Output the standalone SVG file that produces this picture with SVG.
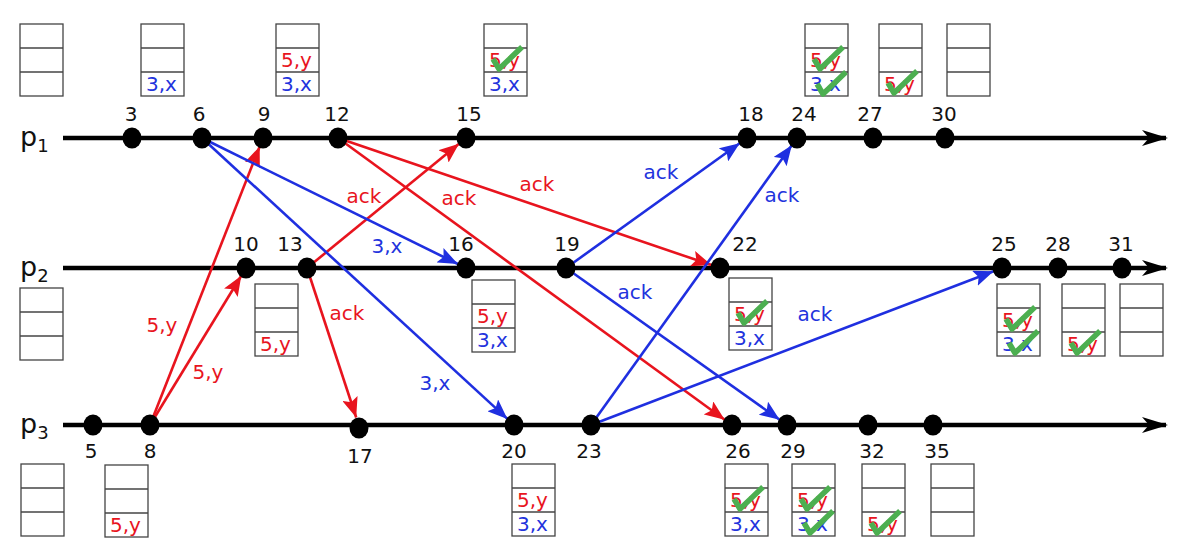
<svg xmlns="http://www.w3.org/2000/svg" xmlns:xlink="http://www.w3.org/1999/xlink" width="1184" height="538" viewBox="0 0 1184 538">
<style>
text{font-family:"DejaVu Sans",sans-serif}
.num{font-size:20px;fill:#111;text-anchor:middle}
.pl{font-size:27px;fill:#111}
.sub{font-size:18px;fill:#111}
.lr{font-size:20px;fill:#e8141e;text-anchor:middle}
.lb{font-size:20px;fill:#2233dd;text-anchor:middle}
.cr{font-size:20px;fill:#e8141e}
.cb{font-size:20px;fill:#2233dd}
.tl{stroke:#000;stroke-width:4.5;fill:none}
.ar{stroke:#e8141e;stroke-width:2.6;fill:none}
.ab{stroke:#1f2fe0;stroke-width:2.6;fill:none}
.chk{stroke:#4caf50;stroke-width:5.5;fill:none;stroke-linejoin:round}
.dot{fill:#000}
</style>
<defs>
<g id="box">
<rect x="0" y="0" width="43" height="72" fill="#fff" stroke="#444" stroke-width="1.3"/>
<line x1="0" y1="24" x2="43" y2="24" stroke="#444" stroke-width="1.3"/>
<line x1="0" y1="48" x2="43" y2="48" stroke="#444" stroke-width="1.3"/>
</g>
<path id="ck" d="M9,12 L15,22 L38,0"/>
<marker id="mr" markerUnits="userSpaceOnUse" markerWidth="22" markerHeight="16" refX="20" refY="8" orient="auto"><path d="M0,0 L20,8 L0,16 L4,8 z" fill="#e8141e"/></marker>
<marker id="mb" markerUnits="userSpaceOnUse" markerWidth="22" markerHeight="16" refX="20" refY="8" orient="auto"><path d="M0,0 L20,8 L0,16 L4,8 z" fill="#1f2fe0"/></marker>
<marker id="mk" markerUnits="userSpaceOnUse" markerWidth="28" markerHeight="18" refX="24" refY="9" orient="auto"><path d="M0,1 L26,9 L0,17 L7,9 z" fill="#000"/></marker>
</defs>

<g id="timelines">
<line class="tl" x1="63" y1="138" x2="1166" y2="138" marker-end="url(#mk)"/>
<line class="tl" x1="63" y1="268" x2="1166" y2="268" marker-end="url(#mk)"/>
<line class="tl" x1="63" y1="425" x2="1166" y2="425" marker-end="url(#mk)"/>
<text class="pl" x="20" y="146">p<tspan class="sub" dy="6">1</tspan></text>
<text class="pl" x="20" y="276">p<tspan class="sub" dy="6">2</tspan></text>
<text class="pl" x="20" y="433">p<tspan class="sub" dy="6">3</tspan></text>
</g>

<g id="connectors">
<line class="ar" x1="150" y1="425" x2="259.7" y2="146.4" marker-end="url(#mr)"/>
<line class="ar" x1="150" y1="425" x2="241.3" y2="275.7" marker-end="url(#mr)"/>
<line class="ar" x1="307" y1="268" x2="459" y2="143.7" marker-end="url(#mr)"/>
<line class="ar" x1="307" y1="268" x2="356.2" y2="417.5" marker-end="url(#mr)"/>
<line class="ar" x1="338" y1="138" x2="711.5" y2="265.1" marker-end="url(#mr)"/>
<line class="ar" x1="338" y1="138" x2="724.7" y2="419.7" marker-end="url(#mr)"/>
<line class="ab" x1="202" y1="138" x2="457.9" y2="264" marker-end="url(#mb)"/>
<line class="ab" x1="202" y1="138" x2="507.4" y2="418.9" marker-end="url(#mb)"/>
<line class="ab" x1="566" y1="268" x2="739.7" y2="143.2" marker-end="url(#mb)"/>
<line class="ab" x1="566" y1="268" x2="779.7" y2="419.8" marker-end="url(#mb)"/>
<line class="ab" x1="591" y1="425" x2="791.8" y2="145.3" marker-end="url(#mb)"/>
<line class="ab" x1="591" y1="425" x2="993.6" y2="271.2" marker-end="url(#mb)"/>
<text class="lr" x="162" y="332">5,y</text>
<text class="lr" x="208" y="379">5,y</text>
<text class="lr" x="364" y="203">ack</text>
<text class="lr" x="347" y="320">ack</text>
<text class="lr" x="537" y="191">ack</text>
<text class="lr" x="459" y="205">ack</text>
<text class="lb" x="387" y="253">3,x</text>
<text class="lb" x="435" y="390">3,x</text>
<text class="lb" x="661" y="179">ack</text>
<text class="lb" x="635" y="299">ack</text>
<text class="lb" x="782" y="202">ack</text>
<text class="lb" x="815" y="321">ack</text>
</g>

<g id="events-p1">
<ellipse class="dot" cx="132" cy="138" rx="9.5" ry="10.5"/><text class="num" x="131" y="121">3</text>
<ellipse class="dot" cx="202" cy="138" rx="9.5" ry="10.5"/><text class="num" x="199" y="121">6</text>
<ellipse class="dot" cx="263" cy="138" rx="9.5" ry="10.5"/><text class="num" x="264" y="121">9</text>
<ellipse class="dot" cx="338" cy="138" rx="9.5" ry="10.5"/><text class="num" x="337" y="121">12</text>
<ellipse class="dot" cx="466" cy="138" rx="9.5" ry="10.5"/><text class="num" x="469" y="121">15</text>
<ellipse class="dot" cx="747" cy="138" rx="9.5" ry="10.5"/><text class="num" x="751" y="121">18</text>
<ellipse class="dot" cx="797" cy="138" rx="9.5" ry="10.5"/><text class="num" x="804" y="121">24</text>
<ellipse class="dot" cx="873" cy="138" rx="9.5" ry="10.5"/><text class="num" x="870" y="121">27</text>
<ellipse class="dot" cx="945" cy="138" rx="9.5" ry="10.5"/><text class="num" x="944" y="121">30</text>
</g>
<g id="events-p2">
<ellipse class="dot" cx="246" cy="268" rx="9.5" ry="10.5"/><text class="num" x="246" y="251">10</text>
<ellipse class="dot" cx="307" cy="268" rx="9.5" ry="10.5"/><text class="num" x="290" y="251">13</text>
<ellipse class="dot" cx="466" cy="268" rx="9.5" ry="10.5"/><text class="num" x="461" y="251">16</text>
<ellipse class="dot" cx="566" cy="268" rx="9.5" ry="10.5"/><text class="num" x="567" y="251">19</text>
<ellipse class="dot" cx="720" cy="268" rx="9.5" ry="10.5"/><text class="num" x="745" y="251">22</text>
<ellipse class="dot" cx="1002" cy="268" rx="9.5" ry="10.5"/><text class="num" x="1004" y="251">25</text>
<ellipse class="dot" cx="1058" cy="268" rx="9.5" ry="10.5"/><text class="num" x="1058" y="251">28</text>
<ellipse class="dot" cx="1122" cy="268" rx="9.5" ry="10.5"/><text class="num" x="1121" y="251">31</text>
</g>
<g id="events-p3">
<ellipse class="dot" cx="93" cy="425" rx="9.5" ry="10.5"/><text class="num" x="91" y="458">5</text>
<ellipse class="dot" cx="150" cy="425" rx="9.5" ry="10.5"/><text class="num" x="150" y="458">8</text>
<ellipse class="dot" cx="359" cy="428" rx="9.5" ry="10.5"/><text class="num" x="360" y="463">17</text>
<ellipse class="dot" cx="514" cy="425" rx="9.5" ry="10.5"/><text class="num" x="514" y="458">20</text>
<ellipse class="dot" cx="591" cy="425" rx="9.5" ry="10.5"/><text class="num" x="589" y="458">23</text>
<ellipse class="dot" cx="732" cy="425" rx="9.5" ry="10.5"/><text class="num" x="738" y="458">26</text>
<ellipse class="dot" cx="787" cy="425" rx="9.5" ry="10.5"/><text class="num" x="793" y="458">29</text>
<ellipse class="dot" cx="868" cy="425" rx="9.5" ry="10.5"/><text class="num" x="872" y="458">32</text>
<ellipse class="dot" cx="933" cy="425" rx="9.5" ry="10.5"/><text class="num" x="937" y="458">35</text>
</g>

<!-- p1 buffers -->
<g id="buf-p1-0" transform="translate(20,24)"><use xlink:href="#box"/></g>
<g id="buf-p1-6" transform="translate(141,24)"><use xlink:href="#box"/><text class="cb" x="5" y="67">3,x</text></g>
<g id="buf-p1-9" transform="translate(276,24)"><use xlink:href="#box"/><text class="cr" x="5" y="43">5,y</text><text class="cb" x="5" y="67">3,x</text></g>
<g id="buf-p1-15" transform="translate(484,24)"><use xlink:href="#box"/><text class="cr" x="5" y="43">5,y</text><text class="cb" x="5" y="67">3,x</text><use class="chk" xlink:href="#ck" y="23"/></g>
<g id="buf-p1-24" transform="translate(805,24)"><use xlink:href="#box"/><text class="cr" x="5" y="43">5,y</text><text class="cb" x="5" y="67">3,x</text><use class="chk" xlink:href="#ck" y="23"/><use class="chk" xlink:href="#ck" x="3" y="48"/></g>
<g id="buf-p1-27" transform="translate(879,24)"><use xlink:href="#box"/><text class="cr" x="5" y="67">5,y</text><use class="chk" xlink:href="#ck" y="47"/></g>
<g id="buf-p1-30" transform="translate(947,24)"><use xlink:href="#box"/></g>

<!-- p2 buffers -->
<g id="buf-p2-0" transform="translate(20,288)"><use xlink:href="#box"/></g>
<g id="buf-p2-13" transform="translate(255,284)"><use xlink:href="#box"/><text class="cr" x="5" y="67">5,y</text></g>
<g id="buf-p2-16" transform="translate(472,280)"><use xlink:href="#box"/><text class="cr" x="5" y="43">5,y</text><text class="cb" x="5" y="67">3,x</text></g>
<g id="buf-p2-22" transform="translate(729,278)"><use xlink:href="#box"/><text class="cr" x="5" y="43">5,y</text><text class="cb" x="5" y="67">3,x</text><use class="chk" xlink:href="#ck" y="23"/></g>
<g id="buf-p2-25" transform="translate(997,284)"><use xlink:href="#box"/><text class="cr" x="5" y="43">5,y</text><text class="cb" x="5" y="67">3,x</text><use class="chk" xlink:href="#ck" y="23"/><use class="chk" xlink:href="#ck" x="3" y="47"/></g>
<g id="buf-p2-28" transform="translate(1062,284)"><use xlink:href="#box"/><text class="cr" x="5" y="67">5,y</text><use class="chk" xlink:href="#ck" y="47"/></g>
<g id="buf-p2-31" transform="translate(1120,284)"><use xlink:href="#box"/></g>

<!-- p3 buffers -->
<g id="buf-p3-0" transform="translate(21,464)"><use xlink:href="#box"/></g>
<g id="buf-p3-8" transform="translate(105,465)"><use xlink:href="#box"/><text class="cr" x="5" y="67">5,y</text></g>
<g id="buf-p3-20" transform="translate(512,464)"><use xlink:href="#box"/><text class="cr" x="5" y="43">5,y</text><text class="cb" x="5" y="67">3,x</text></g>
<g id="buf-p3-26" transform="translate(725,464)"><use xlink:href="#box"/><text class="cr" x="5" y="43">5,y</text><text class="cb" x="5" y="67">3,x</text><use class="chk" xlink:href="#ck" y="23"/></g>
<g id="buf-p3-29" transform="translate(792,464)"><use xlink:href="#box"/><text class="cr" x="5" y="43">5,y</text><text class="cb" x="5" y="67">3,x</text><use class="chk" xlink:href="#ck" y="23"/><use class="chk" xlink:href="#ck" x="3" y="47"/></g>
<g id="buf-p3-32" transform="translate(862,464)"><use xlink:href="#box"/><text class="cr" x="5" y="67">5,y</text><use class="chk" xlink:href="#ck" y="47"/></g>
<g id="buf-p3-35" transform="translate(931,464)"><use xlink:href="#box"/></g>
</svg>
